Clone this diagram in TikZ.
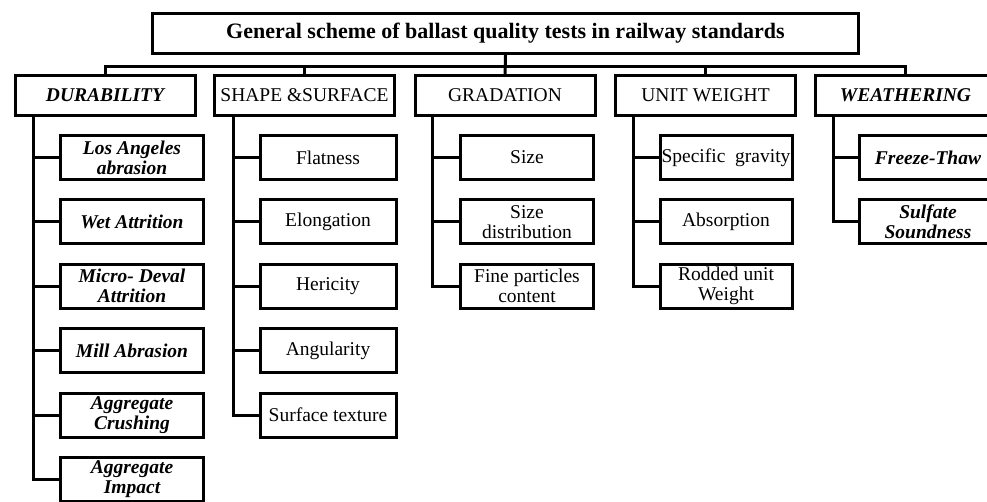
\documentclass[tikz,border=0pt]{standalone}
\usepackage{fontspec}
\setmainfont{Liberation Serif}
\begin{document}
\begin{tikzpicture}[x=1pt,y=-1pt,
  box/.style={draw, line width=3pt, inner sep=0pt, align=center, font=\fontsize{19.5}{20}\selectfont},
  topbox/.style={box, minimum width=706pt, minimum height=40pt, font=\fontsize{22}{24}\selectfont\bfseries},
  catbox/.style={box, minimum width=180pt, minimum height=40pt},
  bi/.style={font=\fontsize{19.5}{20}\selectfont\bfseries\itshape},
  durbox/.style={box, minimum width=143pt, minimum height=44pt, bi},
  shpbox/.style={box, minimum width=136pt, minimum height=44pt},
  grdbox/.style={box, minimum width=133pt, minimum height=44pt},
  unibox/.style={box, minimum width=132pt, minimum height=44pt},
  weabox/.style={box, minimum width=137pt, minimum height=44pt, bi},
  link/.style={line width=3pt}
]
\useasboundingbox (0,0) rectangle (987,501);
\clip (0,0) rectangle (987,501);

% title
\node[topbox] (title) at (505.5,33.5) {General scheme of ballast quality tests in railway standards};

% categories
\node[catbox, bi] (dur)   at (105,95.5)   {DURABILITY};
\node[catbox]     (shape) at (304.5,95.5) {SHAPE \&SURFACE};
\node[catbox]     (grad)  at (505,95.5)   {GRADATION};
\node[catbox]     (unit)  at (705.5,95.5) {UNIT WEIGHT};
\node[catbox, bi] (weath) at (905.5,95.5) {WEATHERING};

% bus
\coordinate (bus) at (0,66);
\draw[link] (title.south) -- (grad.north);
\draw[link] (dur.north) -- (dur.north |- bus) -- (weath.north |- bus) -- (weath.north);
\draw[link] (shape.north) -- (shape.north |- bus);
\draw[link] (unit.north) -- (unit.north |- bus);

% durability
\node[durbox] (d1) at (132,157.5) {Los Angeles\\abrasion};
\node[durbox] (d2) at (132,221.9) {Wet Attrition};
\node[durbox] (d3) at (132,286.3) {Micro- Deval\\Attrition};
\node[durbox] (d4) at (132,350.7) {Mill Abrasion};
\node[durbox] (d5) at (132,415.1) {Aggregate\\Crushing};
\node[durbox] (d6) at (132,479.5) {Aggregate\\Impact};

% shape & surface
\node[shpbox] (s1) at (328,157.5) {Flatness};
\node[shpbox] (s2) at (328,221.9) {Elongation};
\node[shpbox] (s3) at (328,286.3) {Hericity};
\node[shpbox] (s4) at (328,350.7) {Angularity};
\node[shpbox] (s5) at (328,415.1) {Surface texture};

% gradation
\node[grdbox] (g1) at (527,157.5) {Size};
\node[grdbox] (g2) at (527,221.9) {Size\\distribution};
\node[grdbox] (g3) at (527,286.3) {Fine particles\\content};

% unit weight
\node[unibox] (u1) at (726,157.5) {Specific\ \ gravity};
\node[unibox] (u2) at (726,221.9) {Absorption};
\node[unibox] (u3) at (726,286.3) {Rodded unit\\Weight};

% weathering
\node[weabox] (w1) at (928,157.5) {Freeze-Thaw};
\node[weabox] (w2) at (928,221.9) {Sulfate\\Soundness};

% trunks
\coordinate (td) at (33,0);
\coordinate (ts) at (233,0);
\coordinate (tg) at (432,0);
\coordinate (tu) at (633,0);
\coordinate (tw) at (833,0);

\draw[link] (dur.south -| td) |- (d6.west);
\foreach \n in {d1,d2,d3,d4,d5} \draw[link] (\n.west -| td) -- (\n.west);
\draw[link] (shape.south -| ts) |- (s5.west);
\foreach \n in {s1,s2,s3,s4} \draw[link] (\n.west -| ts) -- (\n.west);
\draw[link] (grad.south -| tg) |- (g3.west);
\foreach \n in {g1,g2} \draw[link] (\n.west -| tg) -- (\n.west);
\draw[link] (unit.south -| tu) |- (u3.west);
\foreach \n in {u1,u2} \draw[link] (\n.west -| tu) -- (\n.west);
\draw[link] (weath.south -| tw) |- (w2.west);
\draw[link] (w1.west -| tw) -- (w1.west);
\end{tikzpicture}
\end{document}
